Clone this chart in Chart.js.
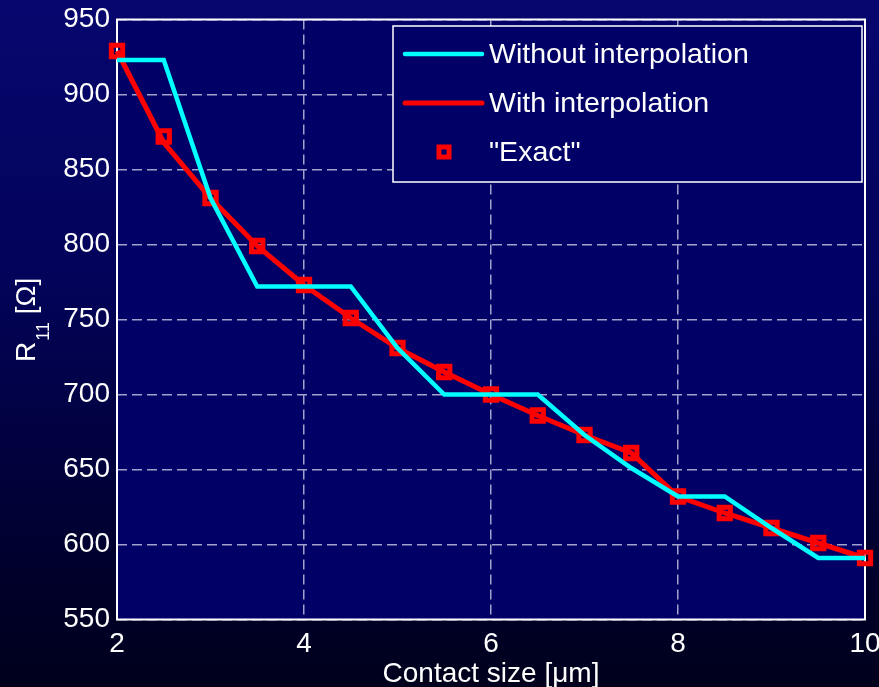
<!DOCTYPE html>
<html>
<head>
<meta charset="utf-8">
<script src="https://cdn.jsdelivr.net/npm/chart.js@4.4.1/dist/chart.umd.min.js"></script>
<style>
  html, body { margin: 0; padding: 0; }
  body {
    width: 879px; height: 687px; overflow: hidden;
    background: linear-gradient(to bottom, #06066e 0%, #03035a 40%, #000034 75%, #00001c 100%);
  }
  canvas { display: block; }
</style>
</head>
<body>
<canvas id="chart" width="879" height="687"></canvas>
<script>
/* ── Data ── */
const contactSize   = [2, 2.5, 3, 3.5, 4, 4.5, 5, 5.5, 6, 6.5, 7, 7.5, 8, 8.5, 9, 9.5, 10];
const withoutInterp = [923, 923, 831, 772, 772, 772, 731, 700, 700, 700, 673, 651, 632, 632, 611, 591, 591];
const withInterp    = [929, 868, 831, 799, 773, 751, 731, 715, 700, 686, 673, 661, 632, 621, 611, 601, 591];
const exactVals     = [929, 872, 831, 799, 773, 751, 731, 715, 700, 686, 673, 661, 632, 621, 611, 601, 591];

const xTicks = [2, 4, 6, 8, 10];
const yTicks = [550, 600, 650, 700, 750, 800, 850, 900, 950];

const FONT    = '"Liberation Sans", Arial, Helvetica, sans-serif';
const PLOT_BG = '#000066';
const GRID    = '#a2a2cc';

const toXY = ys => contactSize.map((x, i) => ({ x, y: ys[i] }));

/* ── Plot area fill + white frame ── */
const plotBg = {
  id: 'plotBg',
  beforeDraw(chart) {
    const { ctx, chartArea: a } = chart;
    ctx.save();
    ctx.fillStyle = PLOT_BG;
    ctx.fillRect(a.left, a.top, a.width, a.height);
    ctx.restore();
  },
  beforeDatasetsDraw(chart) {
    const { ctx, chartArea: a } = chart;
    ctx.save();
    ctx.strokeStyle = '#ffffff';
    ctx.lineWidth = 2;
    ctx.strokeRect(a.left, a.top, a.width, a.height);
    ctx.restore();
  }
};

/* ── Y title with subscript ── */
const yTitle = {
  id: 'yTitle',
  afterDraw(chart) {
    const ctx = chart.ctx;
    ctx.save();
    ctx.translate(35, 362);
    ctx.rotate(-Math.PI / 2);
    ctx.fillStyle = '#ffffff';
    ctx.textBaseline = 'alphabetic';
    ctx.font = `28px ${FONT}`;
    ctx.fillText('R', 0, 0);
    let w = ctx.measureText('R').width + 1;
    ctx.font = `18px ${FONT}`;
    ctx.fillText('11', w, 14);
    w += ctx.measureText('11').width;
    ctx.font = `28px ${FONT}`;
    ctx.fillText(' [Ω]', w, 0);
    ctx.restore();
  }
};

/* ── Boxed legend inside the plot (top right) ── */
const boxLegend = {
  id: 'boxLegend',
  afterDraw(chart) {
    const ctx = chart.ctx;
    const bx = 393, by = 26, bw = 469, bh = 156;
    ctx.save();
    ctx.fillStyle = PLOT_BG;
    ctx.fillRect(bx, by, bw, bh);
    ctx.strokeStyle = '#ffffff';
    ctx.lineWidth = 1.5;
    ctx.strokeRect(bx, by, bw, bh);

    chart.data.datasets.forEach((ds, i) => {
      const cy = 54 + i * 49;
      if (ds.showLine !== false) {
        ctx.strokeStyle = ds.borderColor;
        ctx.lineWidth = ds.borderWidth;
        ctx.lineCap = 'round';
        ctx.beginPath();
        ctx.moveTo(405, cy);
        ctx.lineTo(482, cy);
        ctx.stroke();
      } else {
        const s = 10;
        ctx.strokeStyle = ds.pointBorderColor;
        ctx.lineWidth = ds.pointBorderWidth;
        ctx.strokeRect(444 - s / 2, cy - s / 2, s, s);
      }
      ctx.fillStyle = '#ffffff';
      ctx.font = `28.5px ${FONT}`;
      ctx.textBaseline = 'middle';
      ctx.textAlign = 'left';
      ctx.fillText(ds.label, 489, cy + 1);
    });
    ctx.restore();
  }
};

new Chart(document.getElementById('chart'), {
  type: 'line',
  data: {
    datasets: [
      {
        label: 'Without interpolation',
        data: toXY(withoutInterp),
        borderColor: '#00ffff', borderWidth: 4.5,
        pointRadius: 0, tension: 0, clip: false,
      },
      {
        label: 'With interpolation',
        data: toXY(withInterp),
        borderColor: '#ff0000', borderWidth: 5,
        pointRadius: 0, tension: 0, clip: false,
      },
      {
        label: '"Exact"',
        data: toXY(exactVals),
        showLine: false,
        pointStyle: 'rect', pointRadius: 8,
        pointBorderColor: '#ff0000', pointBackgroundColor: 'transparent',
        pointBorderWidth: 5, clip: false,
      }
    ]
  },
  options: {
    responsive: false,
    animation: false,
    events: [],
    layout: { padding: { top: 19.5, right: 14, left: 0, bottom: 0 } },
    plugins: { legend: { display: false }, tooltip: { enabled: false } },
    scales: {
      x: {
        type: 'linear', min: 2, max: 10,
        afterBuildTicks: s => { s.ticks = xTicks.map(v => ({ value: v })); },
        afterFit: s => { s.height = 67.5; s.paddingLeft = 0; s.paddingRight = 0; },
        grid: { color: GRID, lineWidth: 1.5, drawTicks: false },
        border: { display: false, dash: [10, 5] },
        ticks: { color: '#ffffff', padding: 8, maxRotation: 0, font: { family: FONT, size: 28 } },
        title: {
          display: true, text: 'Contact size [μm]', color: '#ffffff',
          font: { family: FONT, size: 28 }, padding: { top: 0, bottom: -4 }
        }
      },
      y: {
        type: 'linear', min: 550, max: 950,
        afterBuildTicks: s => { s.ticks = yTicks.map(v => ({ value: v })); },
        afterFit: s => { s.width = 117; s.paddingTop = 0; s.paddingBottom = 0; },
        grid: { color: GRID, lineWidth: 1.5, drawTicks: false },
        border: { display: false, dash: [10, 5] },
        ticks: { color: '#ffffff', padding: 7, font: { family: FONT, size: 28 } }
      }
    }
  },
  plugins: [plotBg, yTitle, boxLegend]
});
</script>
</body>
</html>
